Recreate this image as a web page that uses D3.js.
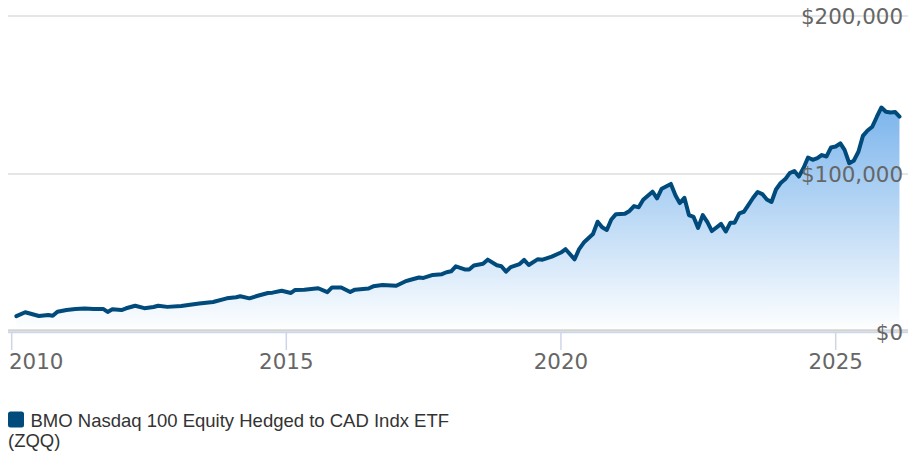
<!DOCTYPE html>
<html>
<head>
<meta charset="utf-8">
<script src="https://cdn.jsdelivr.net/npm/d3@7"></script>
<style>
  html, body { margin: 0; padding: 0; background: #fff; }
  svg { display: block; }
</style>
</head>
<body>
<svg id="chart" width="918" height="452"></svg>
<script>
// growth of $10,000
const months = [
  '2010-02','2010-04','2010-07','2010-09','2010-10','2010-11','2011-01','2011-03','2011-05','2011-07',
  '2011-09','2011-10','2011-11','2012-01','2012-02','2012-04','2012-06','2012-08','2012-09','2012-11',
  '2013-02','2013-04','2013-06','2013-09','2013-12','2014-02','2014-03','2014-05','2014-07','2014-09',
  '2014-10','2014-12','2015-02','2015-03','2015-05','2015-07','2015-08','2015-10','2015-11','2016-01',
  '2016-03','2016-04','2016-07','2016-08','2016-10','2017-01','2017-03','2017-04','2017-06','2017-07',
  '2017-09','2017-11','2017-12','2018-01','2018-02','2018-04','2018-05','2018-06','2018-08','2018-09',
  '2018-11','2018-12','2019-01','2019-02','2019-04','2019-05','2019-06','2019-08','2019-09','2019-11',
  '2020-01','2020-02','2020-04','2020-05','2020-06','2020-08','2020-09','2020-10','2020-11','2020-12',
  '2021-01','2021-03','2021-04','2021-05','2021-06','2021-07','2021-09','2021-10','2021-11','2022-01',
  '2022-02','2022-03','2022-04','2022-05','2022-06','2022-07','2022-08','2022-09','2022-10','2022-12',
  '2023-01','2023-02','2023-03','2023-04','2023-05','2023-06','2023-07','2023-08','2023-09','2023-10',
  '2023-11','2023-12','2024-01','2024-02','2024-03','2024-04','2024-05','2024-06','2024-07','2024-08',
  '2024-09','2024-10','2024-11','2024-12','2025-01','2025-02','2025-03','2025-04','2025-05','2025-06',
  '2025-07','2025-08','2025-09','2025-10','2025-11','2025-12','2026-01','2026-02','2026-03'
];
const values = [
  10000, 12500, 10100, 10800, 10300, 12800, 13900, 14600, 14900, 14600,
  14600, 12700, 14400, 13900, 15000, 16600, 15100, 15800, 16600, 15900,
  16500, 17300, 18000, 19000, 21300, 22000, 22600, 21300, 23100, 24700,
  24900, 26100, 24700, 26600, 26800, 27400, 27700, 25200, 28200, 28200,
  25300, 26800, 27500, 28900, 29700, 29300, 32000, 32900, 34500, 34200,
  36100, 36600, 37800, 38400, 41600, 39600, 39600, 42100, 43200, 45800,
  42200, 41600, 38200, 41100, 43000, 45600, 42400, 46100, 45800, 47700,
  50300, 52400, 46000, 52500, 56600, 62000, 69800, 66300, 64600, 71200,
  74600, 74800, 76600, 79700, 78900, 83700, 88800, 84600, 90700, 93700,
  86400, 81600, 84900, 74000, 72800, 65900, 74000, 69500, 63900, 68400,
  63600, 69200, 69200, 75100, 76100, 80500, 84800, 88600, 87300, 83900,
  82300, 90200, 94300, 96800, 100600, 101900, 98400, 103800, 110400, 109000,
  110100, 112000, 111100, 116800, 117400, 119400, 115300, 106800, 108400, 114100,
  124100, 127500, 129900, 136100, 142100, 139400, 138900, 139200, 136300
];
const yTicks = [0, 100000, 200000];
const xTickYears = [2010, 2015, 2020, 2025];
const seriesName = 'BMO Nasdaq 100 Equity Hedged to CAD Indx ETF';
const seriesTicker = '(ZQQ)';

const lineColor = '#004b7c';
const parseMonth = d3.timeParse('%Y-%m');
const data = months.map((m, i) => ({ date: parseMonth(m), value: values[i] }));

const svg = d3.select('#chart');
const plotLeft = 8, plotRight = 908;

// pin the year ticks where the reference has them, then widen to the plot
const anchor = d3.scaleTime()
  .domain([new Date(2010, 0, 1), new Date(2025, 0, 1)])
  .range([11.7, 835.7]);
const x = d3.scaleTime()
  .domain([anchor.invert(plotLeft), anchor.invert(plotRight)])
  .range([plotLeft, plotRight]);
const y = d3.scaleLinear().domain([0, 200000]).range([332, 16]);

const defs = svg.append('defs');
const grad = defs.append('linearGradient')
  .attr('id', 'areaFill')
  .attr('gradientUnits', 'userSpaceOnUse')
  .attr('x1', 0).attr('x2', 0)
  .attr('y1', y(d3.max(values))).attr('y2', y(0));
grad.append('stop').attr('offset', 0).attr('stop-color', '#7cb5ec');
grad.append('stop').attr('offset', 1).attr('stop-color', '#ffffff');

// gridlines
svg.append('g')
  .selectAll('line')
  .data(yTicks.filter(d => d > 0))
  .enter()
  .append('line')
  .attr('x1', plotLeft).attr('x2', plotRight)
  .attr('y1', d => y(d)).attr('y2', d => y(d))
  .attr('stroke', '#e6e6e6')
  .attr('stroke-width', 2);

// series
svg.append('path')
  .datum(data)
  .attr('fill', 'url(#areaFill)')
  .attr('d', d3.area().x(d => x(d.date)).y0(y(0)).y1(d => y(d.value)));

// x axis line + ticks
svg.append('line')
  .attr('x1', plotLeft).attr('x2', plotRight)
  .attr('y1', y(0) - 1.5).attr('y2', y(0) - 1.5)
  .attr('stroke', '#d4d4d4').attr('stroke-width', 2.5);
svg.append('line')
  .attr('x1', plotLeft).attr('x2', plotRight)
  .attr('y1', y(0) + 0.5).attr('y2', y(0) + 0.5)
  .attr('stroke', '#ccd6eb').attr('stroke-width', 1.5);

svg.append('path')
  .datum(data)
  .attr('fill', 'none')
  .attr('stroke', lineColor)
  .attr('stroke-width', 4)
  .attr('stroke-linejoin', 'round')
  .attr('stroke-linecap', 'round')
  .attr('d', d3.line().x(d => x(d.date)).y(d => y(d.value)));

const xAxis = svg.append('g');
xTickYears.forEach((yr, i) => {
  const px = x(new Date(yr, 0, 1));
  xAxis.append('line')
    .attr('x1', px).attr('x2', px)
    .attr('y1', y(0) + 1).attr('y2', 350)
    .attr('stroke', '#ccd6eb').attr('stroke-width', 1.5);
  xAxis.append('text')
    .attr('x', i === 0 ? plotLeft + 1 : px)
    .attr('y', 369)
    .attr('text-anchor', i === 0 ? 'start' : 'middle')
    .attr('font-family', 'DejaVu Sans')
    .attr('font-size', 21.4)
    .attr('fill', '#666666')
    .text(yr);
});

// y labels sit on top of the series, right aligned
const fmt = d3.format('$,');
svg.append('g')
  .selectAll('text')
  .data(yTicks)
  .enter()
  .append('text')
  .attr('x', 903)
  .attr('y', d => y(d))
  .attr('dy', '0.36em')
  .attr('text-anchor', 'end')
  .attr('font-family', 'DejaVu Sans')
  .attr('font-size', 21.4)
  .attr('fill', '#666666')
  .text(d => fmt(d));

// legend
const legend = svg.append('g');
legend.append('rect')
  .attr('x', 8).attr('y', 411.5)
  .attr('width', 16).attr('height', 16)
  .attr('rx', 2.5)
  .attr('fill', lineColor);
legend.append('text')
  .attr('x', 30.5).attr('y', 426.5)
  .attr('font-family', 'Liberation Sans, Arial, sans-serif')
  .attr('font-size', 18.5)
  .attr('fill', '#333333')
  .text(seriesName);
legend.append('text')
  .attr('x', 8).attr('y', 446.5)
  .attr('font-family', 'Liberation Sans, Arial, sans-serif')
  .attr('font-size', 18.5)
  .attr('fill', '#333333')
  .text(seriesTicker);
</script>
</body>
</html>
